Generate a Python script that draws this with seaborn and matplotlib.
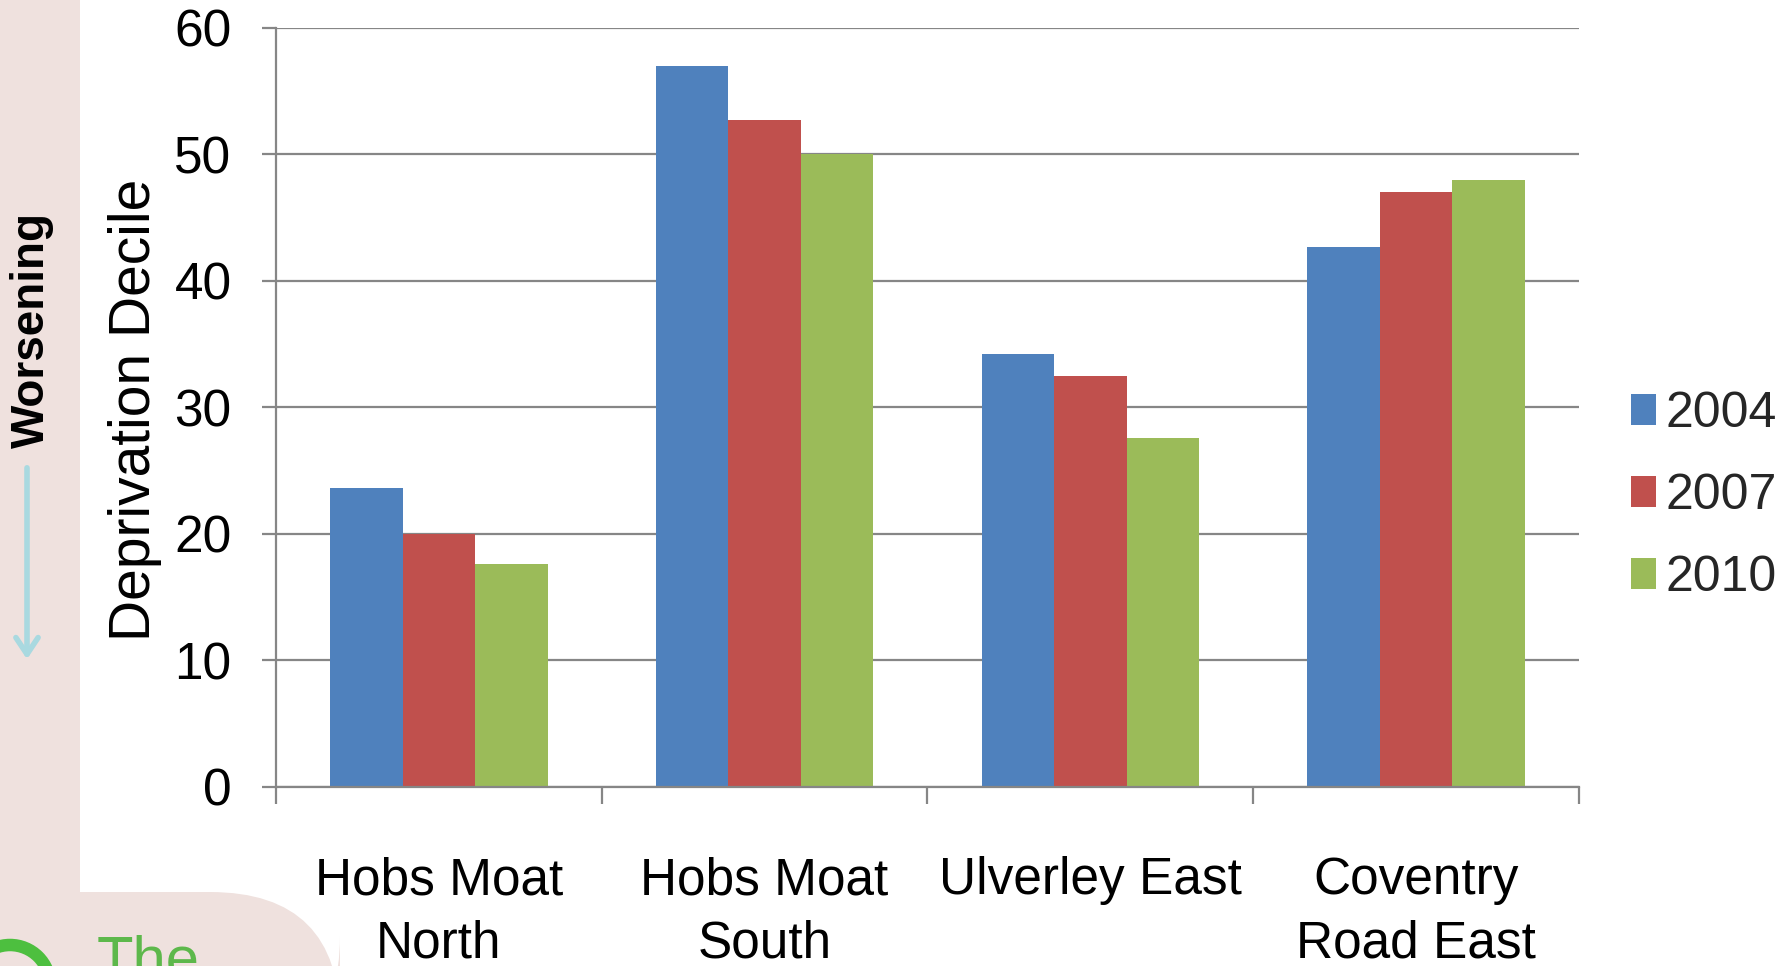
import matplotlib
matplotlib.use("Agg")
import matplotlib.pyplot as plt
from matplotlib.patches import Rectangle, FancyBboxPatch, Circle, FancyArrowPatch
import seaborn as sns
import pandas as pd

# data
areas = ["Hobs Moat\nNorth", "Hobs Moat\nSouth", "Ulverley East", "Coventry\nRoad East"]
years = ["2004", "2007", "2010"]
vals_2004 = [23.6, 57.0, 34.2, 42.7]
vals_2007 = [20.0, 52.7, 32.5, 47.0]
vals_2010 = [17.6, 50.0, 27.6, 48.0]
yticks = [0, 10, 20, 30, 40, 50, 60]

colors = ["#4F81BD", "#C0504D", "#9BBB59"]
grey = "#868686"
pink = "#EFE1DE"

rows = []
for yr, vals in zip(years, [vals_2004, vals_2007, vals_2010]):
    for a, v in zip(areas, vals):
        rows.append({"area": a, "year": yr, "value": v})
df = pd.DataFrame(rows)

sns.set_theme(style="white")
plt.rcParams["font.family"] = ["Liberation Sans", "DejaVu Sans"]

W, H = 1789, 966
fig = plt.figure(figsize=(W / 100, H / 100), dpi=100)
fig.patch.set_facecolor("white")

# background decoration (pink margin strips and logo fragment)
fig.patches.append(Rectangle((0, 0), 0.80, H / 100, transform=fig.dpi_scale_trans,
                             facecolor=pink, edgecolor="none", zorder=0))
fig.patches.append(FancyBboxPatch((-2.0, -1.0), 5.4, 1.74,
                                  boxstyle="round,pad=0,rounding_size=1.3",
                                  transform=fig.dpi_scale_trans,
                                  facecolor=pink, edgecolor="none", zorder=0))
fig.patches.append(Circle((0.10, -0.19), 0.40, transform=fig.dpi_scale_trans,
                          fill=False, edgecolor="#4DBF3F", linewidth=9, zorder=1))
# logo word, cropped at the bottom edge as in the source image
fig.text(97 / W, 1 - 978 / H, "The", color="#5DB84B", fontsize=43,
         ha="left", va="baseline")

ax = fig.add_axes([276 / W, (H - 787) / H, 1303 / W, (787 - 27.7) / H])

sns.barplot(data=df, x="area", y="value", hue="year", hue_order=years,
            order=areas, palette=colors, saturation=1, width=0.667, gap=0,
            linewidth=0, ax=ax)

ax.set_xlim(-0.5, 3.5)
ax.set_ylim(0, 60)
ax.set_yticks(yticks)
ax.set_xlabel("")
ax.set_ylabel("Deprivation Decile", fontsize=41, color="black")
ax.yaxis.set_label_coords(-0.0875, 0.497)

ax.yaxis.grid(True, color=grey, linewidth=1.6)
ax.set_axisbelow(True)
for s in ["top", "right"]:
    ax.spines[s].set_visible(False)
for s in ["left", "bottom"]:
    ax.spines[s].set_color(grey)
    ax.spines[s].set_linewidth(1.6)

ax.tick_params(axis="y", which="major", left=True, length=10, width=1.6,
               color=grey, pad=22, labelsize=37, labelcolor="black")
ax.tick_params(axis="x", which="major", length=0, pad=50, labelsize=37,
               labelcolor="black")
ax.set_xticks([-0.5, 0.5, 1.5, 2.5, 3.5], minor=True)
ax.tick_params(axis="x", which="minor", bottom=True, length=12, width=1.6,
               color=grey, direction="out")
for lbl in ax.get_xticklabels():
    lbl.set_linespacing(1.37)

handles, labels = ax.get_legend_handles_labels()
ax.legend(handles, labels, loc="center left", bbox_to_anchor=(1631 / W, 1 - 496 / H),
          bbox_transform=fig.transFigure, frameon=False, fontsize=36,
          handlelength=0.5, handleheight=0.6, handletextpad=0.2,
          labelspacing=0.72, borderpad=0, borderaxespad=0)

# "Worsening" side note with arrow
fig.text(32 / W, 1 - 330 / H, "Worsening", rotation=90, fontsize=33,
         fontweight="bold", family=["Liberation Sans Narrow", "Liberation Sans"],
         ha="center", va="center", color="black")
fig.add_artist(FancyArrowPatch(
    (27 / W, 1 - 465 / H), (27 / W, 1 - 662 / H), transform=fig.transFigure,
    arrowstyle="->,head_length=12,head_width=8", color="#A9D9E0",
    linewidth=4, mutation_scale=1))

fig.savefig("out.png", dpi=100)
